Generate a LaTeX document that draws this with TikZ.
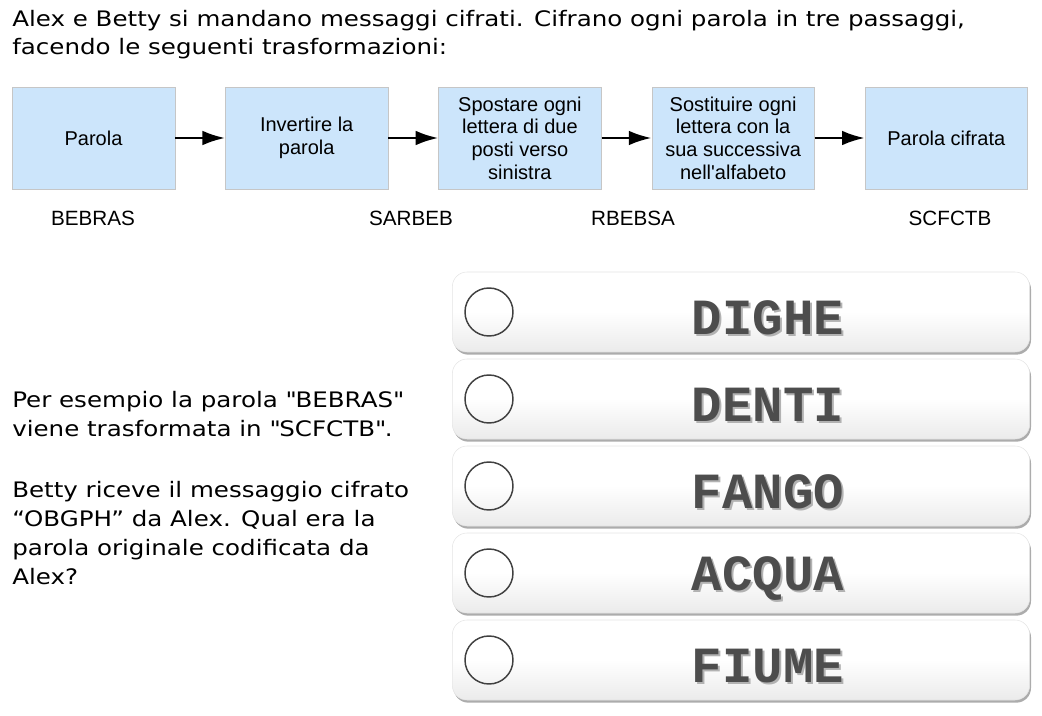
\documentclass[tikz,border=0pt]{standalone}
\usepackage{fontspec}
\setmainfont[FakeStretch=1.15]{DejaVu Sans}
\newfontfamily\boxfont{Liberation Sans}
\newfontfamily\answerfont{Liberation Mono}
\usetikzlibrary{positioning,shadows,arrows.meta}
\definecolor{boxblue}{HTML}{CCE5FB}
\definecolor{boxline}{HTML}{C6C6C6}
\definecolor{answergray}{HTML}{4D4D4D}

\begin{document}
\begin{tikzpicture}[x=0.75pt,y=-0.75pt,node distance=37.5pt,
  stage/.style={draw=boxline,fill=boxblue,minimum width=122pt,minimum height=76.5pt,align=center,inner sep=0pt,font=\boxfont\fontsize{15}{17}\selectfont},
  word/.style={font=\boxfont\fontsize{15.5}{17}\selectfont},
  flow/.style={-{Latex[length=17pt,width=11pt]},line width=1.9pt},
  choice/.style={draw=black!10,rounded corners=11pt,minimum width=433pt,minimum height=60pt,top color=white,bottom color=black!8,middle color=white,drop shadow={shadow xshift=1pt,shadow yshift=-2pt,fill=black!50,opacity=0.65}},
  tick/.style={circle,draw=black!75,line width=1.1pt,minimum size=36pt,inner sep=0pt},
  answer/.style={font=\answerfont\bfseries\fontsize{38}{38}\selectfont,text=answergray},
  answershadow/.style={font=\answerfont\bfseries\fontsize{38}{38}\selectfont,text=black!30}]
\useasboundingbox (0,0) rectangle (1042,716);

% intro
\node[anchor=north west,align=left,inner sep=0pt,font=\fontsize{16}{21}\selectfont] (intro) at (12,10)
  {Alex e Betty si mandano messaggi cifrati. Cifrano ogni parola in tre passaggi,\\facendo le seguenti trasformazioni:};

% the three steps
\node[stage] (p0) at (93.5,138) {Parola};
\node[stage] (p1) [right=of p0] {Invertire la\\parola};
\node[stage] (p2) [right=of p1] {Spostare ogni\\lettera di due\\posti verso\\sinistra};
\node[stage] (p3) [right=of p2] {Sostituire ogni\\lettera con la\\sua successiva\\nell\textquotesingle alfabeto};
\node[stage] (p4) [right=of p3] {Parola cifrata};

\foreach \a/\b in {p0/p1,p1/p2,p2/p3,p3/p4}
  \draw[flow] (\a) -- (\b);

\node[word] (w0) at (93,218) {BEBRAS};
\node[word] (w1) at (411,218) {SARBEB};
\node[word] (w2) at (633,218) {RBEBSA};
\node[word] (w3) at (950,218) {SCFCTB};

% question
\node[anchor=north west,align=left,inner sep=0pt,font=\fontsize{16}{21.75}\selectfont] (question) at (12,391)
  {Per esempio la parola \textquotedbl BEBRAS\textquotedbl\\viene trasformata in \textquotedbl SCFCTB\textquotedbl.\\[24pt]Betty riceve il messaggio cifrato\\“OBGPH” da Alex. Qual era la\\parola originale codificata da\\Alex?};

% answers
\foreach \w [count=\i] in {DIGHE,DENTI,FANGO,ACQUA,FIUME}{
  \node[choice] (c\i) at (741,312+87*\i-87) {};
  \node[tick] (t\i) at (489,312+87*\i-87) {};
  \node[answershadow] at (770,320+87*\i-87) {\w};
  \node[answer] (a\i) at (768,318+87*\i-87) {\w};
}
\end{tikzpicture}
\end{document}
